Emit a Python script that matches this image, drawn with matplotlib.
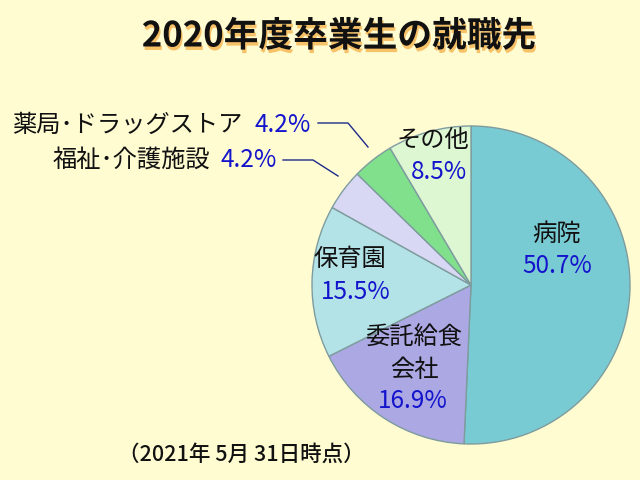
import matplotlib
matplotlib.use("Agg")
import matplotlib.pyplot as plt
import matplotlib.patheffects as pe

plt.rcParams['font.family'] = ['Noto Sans CJK JP', 'DejaVu Sans']

title = "2020年度卒業生の就職先"
note = "（2021年 5月 31日時点）"
categories = ["病院", "委託給食\n会社", "保育園", "福祉･介護施設", "薬局･ドラッグストア", "その他"]
values = [50.7, 16.9, 15.5, 4.2, 4.2, 8.5]
colors = ["#79CBD3", "#ABA8E3", "#B3E2E7", "#D9D8F4", "#80E08C", "#DDF7D3"]

BG = "#FFFCD2"
BLUE = "#1414CC"

fig = plt.figure(figsize=(6.4, 4.8), dpi=100, facecolor=BG)
ax = fig.add_axes([0, 0, 1, 1])
ax.set_facecolor(BG)

H = 480
def Y(y):
    return H - y

cx, cy, r = 471, 285, 159
ax.pie(values, colors=colors, startangle=90, counterclock=False,
       center=(cx, Y(cy)), radius=r, frame=True,
       wedgeprops=dict(edgecolor="#7E9C9E", linewidth=1.0))
ax.set_xlim(0, 640)
ax.set_ylim(0, 480)
ax.set_aspect('equal')
ax.axis('off')

def pct(v):
    return f"{v:.1f}%"

FS = 17.5
inside = {
    0: ((557, 234), (557, 266)),
    1: ((414, 354), (413, 401)),
    2: ((350, 259), (356, 292)),
    5: ((433, 140), (439, 172)),
}
for i, ((nx, ny), (px, py)) in inside.items():
    ax.text(nx, Y(ny), categories[i], ha='center', va='center', fontsize=FS,
            color='#111111', linespacing=1.3)
    ax.text(px, Y(py), pct(values[i]), ha='center', va='center',
            fontsize=FS, color=BLUE)

outside = {
    4: (242, 125, 283, [(318, 123), (348, 123), (368, 147)]),
    3: (210, 160, 249, [(283, 160), (313, 160), (338, 176)]),
}
for i, (xr, yy, xp, pts) in outside.items():
    ax.text(xr, Y(yy), categories[i], ha='right', va='center', fontsize=FS,
            color='#111111')
    ax.text(xp, Y(yy), pct(values[i]), ha='center', va='center', fontsize=FS,
            color=BLUE)
    ax.plot([p[0] for p in pts], [Y(p[1]) for p in pts], color='#1E2A8A', lw=1.0)

ax.text(339, Y(36), title, ha='center', va='center', fontsize=25,
        fontweight='bold', color='#111111',
        path_effects=[pe.withSimplePatchShadow(offset=(1, -2.5),
                                               shadow_rgbFace='#F5A83A', alpha=0.7)])

ax.text(241, Y(455), note, ha='center', va='center', fontsize=15.5,
        fontweight='medium', color='#111111')

fig.savefig("out.png", dpi=100, facecolor=BG)
